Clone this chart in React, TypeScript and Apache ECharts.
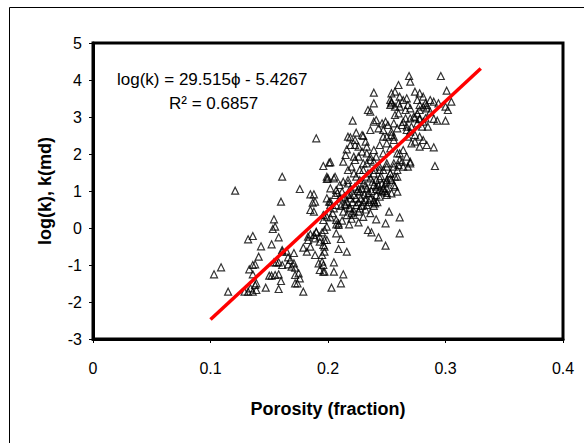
import React, { useEffect, useRef } from "react";
import * as echarts from "echarts";

const xTicks = [0, 0.1, 0.2, 0.3, 0.4];
const yTicks = [-3, -2, -1, 0, 1, 2, 3, 4, 5];
const xTitle = "Porosity (fraction)";
const yTitle = "log(k), k(md)";
const equationText = "log(k) = 29.515\u03d5 - 5.4267";
const r2Text = "R\u00b2 = 0.6857";

const fitX = [0.1, 0.33];
const fitY = [-2.475, 4.313];

const samples: [number, number][] = [
  [0.121,1.008],[0.161,1.386],[0.176,1.054],[0.185,0.911],[0.188,0.911],[0.160,0.711],[0.187,0.684],[0.185,0.486],[0.188,0.441],[0.154,0.235],[0.155,0.035],[0.153,-0.027],[0.158,-0.251],[0.132,-0.305],[0.136,-0.216],[0.143,-0.495],[0.152,-0.441],[0.161,-0.595],[0.171,-0.676],[0.166,-0.792],[0.179,-0.532],[0.182,-0.641],[0.185,-0.505],[0.183,-0.324],[0.189,-0.278],[0.185,-0.170],[0.190,-0.116],[0.195,-0.116],[0.189,-0.730],[0.195,-0.730],[0.141,-0.776],[0.138,-0.981],[0.133,-1.116],[0.109,-1.062],[0.103,-1.251],[0.154,-0.927],[0.156,-0.927],[0.158,-0.927],[0.161,-1.000],[0.166,-0.981],[0.169,-1.046],[0.172,-1.073],[0.136,-1.251],[0.150,-1.289],[0.152,-1.289],[0.155,-1.270],[0.158,-1.251],[0.160,-1.432],[0.172,-1.270],[0.175,-1.224],[0.176,-1.359],[0.172,-1.495],[0.174,-1.495],[0.138,-1.541],[0.139,-1.495],[0.134,-1.630],[0.136,-1.722],[0.139,-1.676],[0.147,-1.613],[0.158,-1.649],[0.115,-1.722],[0.179,-1.722],[0.129,-1.722],[0.132,-1.722],[0.192,-0.954],[0.195,-0.911],[0.193,-1.135],[0.196,-1.181],[0.196,-0.459],[0.197,-0.324],
  [0.189,0.711],[0.201,0.711],[0.202,0.622],[0.196,0.351],[0.199,0.306],[0.202,0.289],[0.207,0.216],[0.209,0.081],[0.190,-0.100],[0.193,-0.235],[0.188,-0.189],[0.183,-0.235],[0.193,-0.370],[0.197,-0.505],[0.168,-0.865],[0.171,-0.954],[0.161,-0.641],[0.165,-0.641],[0.136,-1.000],
  [0.199,1.324],[0.205,1.343],[0.202,1.073],[0.207,1.027],[0.252,0.441],[0.261,0.289],[0.241,0.235],[0.249,0.127],[0.234,-0.054],[0.237,-0.116],[0.243,-0.251],[0.261,-0.143],[0.249,-0.478],[0.196,0.216],[0.199,0.035],[0.197,-0.054],[0.207,0.100],[0.209,0.127],[0.207,-0.143],[0.211,-0.297],[0.199,-0.324],[0.209,-0.568],[0.216,-0.641],[0.197,-0.641],[0.196,-1.000],[0.205,-0.927],[0.197,-1.181],[0.205,-1.181],[0.213,-1.251],[0.203,-1.613],[0.211,-1.495],
  [0.213,1.251],[0.219,1.073],[0.222,0.892],[0.227,0.981],[0.233,1.073],[0.239,1.162],[0.244,1.343],[0.250,1.251],[0.256,1.162],[0.253,1.343],[0.247,1.073],[0.241,0.892],[0.236,0.803],[0.230,0.711],[0.224,0.622],[0.219,0.532],[0.213,0.441],[0.222,0.351],[0.227,0.532],[0.233,0.622],[0.239,0.711],[0.216,0.711],[0.210,0.803],[0.207,0.622],[0.205,0.532],[0.202,0.711],[0.199,0.803],
  [0.222,0.450],[0.228,0.800],[0.235,0.950],[0.241,1.050],[0.246,1.200],[0.226,0.700],[0.217,0.900],[0.232,0.500],[0.239,0.600],[0.244,0.850],[0.250,0.950],[0.208,0.950],[0.214,0.650],[0.220,0.250],[0.226,0.150],[0.218,0.550],[0.230,0.300],[0.236,0.400],[0.242,0.700],[0.248,1.000],
  [0.219,0.892],[0.224,0.803],[0.215,0.622],[0.220,0.397],[0.226,0.441],[0.232,0.757],[0.234,0.938],[0.229,1.073],[0.223,1.116],[0.217,1.208],[0.210,1.162],[0.206,0.892],[0.212,0.981],
  [0.241,1.116],[0.246,0.981],[0.250,0.892],[0.254,0.938],[0.259,0.981],[0.239,0.757],[0.240,0.668],
  [0.236,1.343],[0.241,1.297],[0.249,1.208],[0.254,1.297],[0.257,1.116],[0.250,1.073],[0.244,1.027],[0.259,1.386],
  [0.269,4.108],[0.270,3.954],[0.296,4.108],[0.260,3.865],[0.239,3.657],[0.301,3.711],[0.257,3.684],[0.253,3.459],[0.254,3.370],[0.274,3.684],[0.278,3.641],[0.281,3.549],[0.239,3.370],[0.234,3.189],[0.236,3.143],[0.264,3.459],[0.267,3.505],[0.268,3.324],[0.261,3.278],[0.266,3.189],[0.270,3.235],[0.260,3.100],[0.257,3.054],[0.273,3.008],[0.276,3.100],[0.278,3.189],[0.281,3.278],[0.284,3.324],[0.287,3.459],[0.290,3.414],[0.294,3.370],[0.300,3.278],[0.302,3.189],[0.305,3.414],[0.221,2.900],[0.293,2.900],[0.300,2.900],[0.285,2.738],[0.239,2.873],[0.241,2.919],[0.246,2.830],[0.249,2.873],[0.251,2.784],[0.256,2.830],[0.243,2.695],[0.247,2.649],[0.254,2.603],[0.259,2.695],[0.263,2.784],[0.267,2.738],[0.236,2.649],[0.229,2.514],[0.224,2.576],[0.219,2.451],[0.223,2.378],[0.232,2.332],[0.270,2.603],[0.274,2.514],[0.278,2.468],[0.281,2.378],[0.290,2.181],[0.291,1.676],[0.216,2.127],[0.215,1.973],[0.222,1.927],[0.223,1.838],[0.196,1.676],[0.201,1.765],[0.199,1.386],[0.206,1.386],[0.213,1.792],[0.220,1.657],[0.217,2.468],[0.230,2.486],[0.217,1.297],[0.190,2.424],[0.202,1.780],[0.200,1.343],
  [0.233,2.197],[0.239,2.108],[0.244,2.243],[0.250,2.289],[0.256,2.378],[0.253,2.154],[0.247,2.019],[0.241,1.927],[0.236,1.838],[0.230,1.749],[0.227,1.568],[0.259,2.019],[0.264,2.108],[0.267,1.927],[0.261,1.838],[0.256,1.749],[0.250,1.657],[0.244,1.568],[0.239,1.478],[0.233,1.386],[0.253,1.478],[0.259,1.568],[0.264,1.657],[0.270,1.749],[0.250,2.468],[0.254,2.514],
  [0.276,2.830],[0.280,2.738],[0.278,2.940],[0.264,2.870],[0.290,2.950],[0.257,3.280],[0.260,3.370],[0.266,2.965],[0.268,2.468],[0.271,2.289],[0.274,2.332],[0.278,2.197],[0.284,2.243],
  [0.219,2.243],[0.223,2.243],[0.226,2.197],[0.276,3.459],[0.278,3.324],[0.283,3.370],[0.284,3.234],[0.287,3.143],[0.254,3.641],[0.261,3.549],[0.254,3.414],[0.253,3.324],[0.270,2.965],[0.274,2.992],[0.278,2.965],[0.283,2.965],[0.281,2.873],[0.271,2.738],[0.267,2.649],[0.247,2.468],[0.256,2.468],[0.261,2.019],[0.270,1.792],[0.268,1.657],[0.263,1.792],[0.260,1.703],
  [0.236,1.927],[0.239,1.792],[0.233,1.747],[0.230,1.568],[0.234,1.478],[0.240,1.568],[0.244,1.657],[0.250,1.747],[0.247,1.568],[0.253,1.478],[0.256,1.657],[0.257,1.386],[0.250,1.297],
  [0.217,1.568],[0.222,1.478],[0.224,1.386],[0.227,1.297],[0.230,1.208],[0.233,2.019],[0.229,2.063],[0.226,1.927],
  [0.221,0.700],[0.225,1.000],[0.231,0.900],[0.237,1.000],[0.243,1.150],[0.229,0.600],[0.235,0.700],[0.245,1.400],[0.238,1.250],[0.232,1.150],[0.226,1.050],[0.219,0.800],[0.214,0.850],[0.211,0.600],[0.204,0.400],[0.216,0.350],[0.212,0.200],[0.218,0.100]
];

const FONT = "'Liberation Sans', Arial, sans-serif";

export default function App() {
  const ref = useRef<HTMLDivElement>(null);
  useEffect(() => {
    if (!ref.current) return;
    const chart = echarts.init(ref.current, null, { renderer: "svg" });
    chart.setOption({
      animation: false,
      backgroundColor: "#fff",
      textStyle: { fontFamily: FONT, color: "#000" },
      grid: {
        left: 93,
        top: 43,
        right: 21,
        bottom: 104,
        show: true,
        borderColor: "#000",
        borderWidth: 3,
        backgroundColor: "#fff",
      },
      xAxis: {
        type: "value",
        min: xTicks[0],
        max: xTicks[xTicks.length - 1],
        interval: 0.1,
        name: xTitle,
        nameLocation: "middle",
        nameGap: 61,
        nameTextStyle: { fontFamily: FONT, fontSize: 18, fontWeight: "bold", color: "#000" },
        axisLine: { show: true, onZero: false, lineStyle: { color: "#000", width: 3 } },
        axisTick: { show: true, length: 4, lineStyle: { color: "#000", width: 1 } },
        axisLabel: { fontFamily: FONT, fontSize: 16, color: "#000", margin: 21, formatter: (v: number) => String(+v.toFixed(1)) },
        splitLine: { show: false },
      },
      yAxis: {
        type: "value",
        min: yTicks[0],
        max: yTicks[yTicks.length - 1],
        interval: 1,
        name: yTitle,
        nameLocation: "middle",
        nameGap: 39,
        nameTextStyle: { fontFamily: FONT, fontSize: 18, fontWeight: "bold", color: "#000" },
        axisLine: { show: true, onZero: false, lineStyle: { color: "#000", width: 3 } },
        axisTick: { show: true, length: 4, lineStyle: { color: "#000", width: 1 } },
        axisLabel: { fontFamily: FONT, fontSize: 16, color: "#000", margin: 11 },
        splitLine: { show: false },
      },
      graphic: [
        {
          type: "rect",
          shape: { x: 9.5, y: 7.5, width: 700, height: 700 },
          style: { fill: "none", stroke: "#000", lineWidth: 1 },
          silent: true,
          z: -10,
        },
        {
          type: "text",
          x: 117,
          y: 79,
          style: { text: equationText, font: `17px ${FONT}`, fill: "#000", verticalAlign: "middle" },
          z: 10,
        },
        {
          type: "text",
          x: 169,
          y: 103,
          style: { text: r2Text, font: `17px ${FONT}`, fill: "#000", verticalAlign: "middle" },
          z: 10,
        },
      ],
      series: [
        {
          type: "scatter",
          data: samples,
          symbol: "triangle",
          symbolSize: [7, 7],
          itemStyle: { color: "rgba(0,0,0,0)", borderColor: "#000", borderWidth: 1.2 },
          z: 2,
        },
        {
          type: "line",
          data: fitX.map((x, i) => [x, fitY[i]]),
          symbol: "none",
          lineStyle: { color: "#ff0000", width: 3.5 },
          z: 3,
        },
      ],
    });
    return () => chart.dispose();
  }, []);
  return (
    <div
      ref={ref}
      style={{ position: "fixed", left: 0, top: 0, width: 584, height: 443, background: "#fff" }}
    />
  );
}
